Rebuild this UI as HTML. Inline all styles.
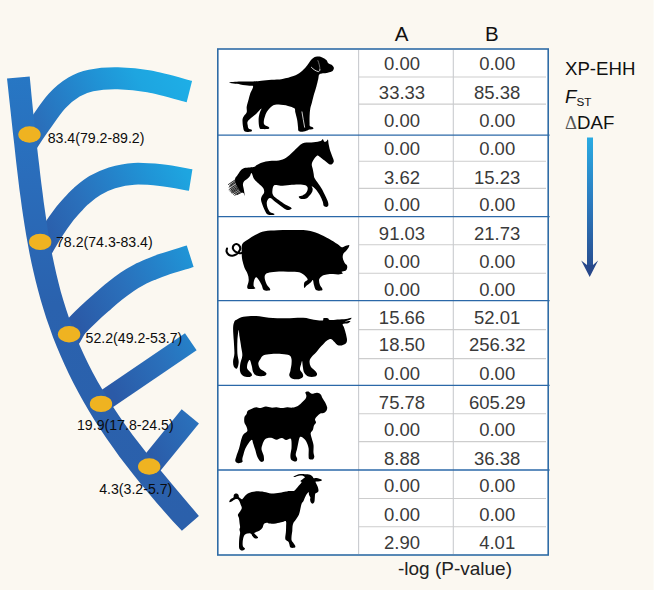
<!DOCTYPE html>
<html><head><meta charset="utf-8"><title>Figure</title>
<style>
html,body{margin:0;padding:0;background:#fbf8f1;}
svg{display:block}
text{font-family:"Liberation Sans",sans-serif;}
</style></head><body>
<svg width="655" height="590" viewBox="0 0 655 590">
<defs>
<linearGradient id="tg" gradientUnits="userSpaceOnUse" x1="-68.6" y1="34.9" x2="117.2" y2="-59.6">
<stop offset="0" stop-color="#2b5aa7"/>
<stop offset="0.279" stop-color="#2a70bb"/>
<stop offset="0.441" stop-color="#2580c8"/>
<stop offset="0.624" stop-color="#2094d6"/>
<stop offset="0.789" stop-color="#1ea5e0"/>
<stop offset="1" stop-color="#1eaee6"/>
</linearGradient>
<linearGradient id="trg" gradientUnits="userSpaceOnUse" x1="0" y1="77" x2="0" y2="523">
<stop offset="0" stop-color="#2777c4"/>
<stop offset="0.22" stop-color="#2a6dbb"/>
<stop offset="0.51" stop-color="#2a62ae"/>
<stop offset="1" stop-color="#2b60ab"/>
</linearGradient>
<linearGradient id="ag" gradientUnits="userSpaceOnUse" x1="0" y1="137" x2="0" y2="277">
<stop offset="0" stop-color="#29abe2"/>
<stop offset="0.45" stop-color="#2b7cc0"/>
<stop offset="1" stop-color="#27488a"/>
</linearGradient>
</defs>
<rect x="0" y="0" width="655" height="590" fill="#fbf8f1"/>

<g fill="none" stroke="url(#tg)" stroke-width="22" stroke-linecap="butt">
<path d="M25.5,146.0C25.8,145.4 25.1,146.2 27.5,142.5C29.9,138.8 35.1,130.9 40.0,124.0C44.9,117.1 51.3,107.2 57.0,101.0C62.7,94.8 68.3,90.4 74.0,87.0C79.7,83.6 83.7,82.0 91.0,80.5C98.3,79.0 108.1,78.1 117.8,78.3C127.5,78.5 137.2,79.2 149.1,81.4C161.0,83.6 182.7,89.8 189.4,91.5" stroke-width="22"/>
<path d="M41.5,249.5C41.8,249.0 41.5,249.7 43.4,246.5C45.3,243.3 49.5,235.7 52.9,230.5C56.2,225.3 59.9,220.0 63.5,215.3C67.2,210.6 71.9,205.6 74.8,202.4C77.7,199.2 77.8,198.8 81.1,196.0C84.4,193.2 89.8,188.5 94.9,185.5C100.1,182.5 105.5,179.8 112.0,177.8C118.5,175.9 125.8,174.2 134.0,173.8C142.2,173.4 151.5,174.2 160.9,175.2C170.3,176.2 185.7,179.2 190.7,180.0" stroke-width="21.8"/>
<path d="M66.5,341.0C67.1,340.3 68.5,339.1 70.2,336.6C71.9,334.1 73.8,329.6 76.7,326.0C79.7,322.4 83.8,318.6 87.9,314.7C92.0,310.8 96.7,306.6 101.1,302.8C105.5,299.0 109.9,295.1 114.2,291.6C118.5,288.1 122.9,284.8 127.1,281.9C131.3,279.0 135.3,276.7 139.5,274.5C143.7,272.3 148.2,270.5 152.2,268.8C156.2,267.1 157.2,266.6 163.5,264.5C169.8,262.4 185.8,257.6 190.2,256.2" stroke-width="22.6"/>
<path d="M100.0,403.6 L190.8,341.8" stroke-width="20.6"/>
<path d="M149.5,466.5 L190.3,416.4" stroke-width="22.3"/>
</g>
<path d="M29.7,76.4 L30.6,85.4 L31.4,94.3 L32.3,103.3 L33.2,112.3 L34.2,121.2 L35.2,130.2 L36.2,139.2 L37.2,148.2 L38.2,157.1 L39.3,166.1 L40.3,175.1 L41.4,184.0 L42.6,193.0 L43.7,202.0 L45.0,210.9 L46.3,219.9 L47.6,228.9 L49.1,237.8 L50.7,246.8 L52.4,255.8 L54.3,264.8 L56.3,273.7 L58.5,282.7 L60.8,291.7 L63.4,300.6 L66.2,309.6 L69.2,318.6 L72.4,327.5 L76.0,336.5 L79.7,345.5 L83.8,354.5 L88.1,363.4 L92.7,372.4 L97.6,381.4 L102.8,390.3 L108.2,399.3 L114.0,408.3 L120.0,417.2 L126.3,426.2 L132.8,435.2 L139.6,444.1 L146.6,453.1 L153.8,462.1 L161.1,471.1 L168.6,480.0 L176.1,489.0 L183.7,498.0 L191.3,506.9 L198.9,515.9 L181.9,530.7 L173.1,521.5 L164.9,512.2 L156.8,503.0 L149.0,493.8 L141.3,484.5 L133.9,475.3 L126.7,466.1 L119.7,456.9 L113.0,447.6 L106.6,438.4 L100.4,429.2 L94.4,419.9 L88.8,410.7 L83.4,401.5 L78.3,392.2 L73.4,383.0 L68.8,373.8 L64.5,364.5 L60.4,355.3 L56.5,346.1 L52.9,336.9 L49.6,327.6 L46.4,318.4 L43.5,309.2 L40.7,299.9 L38.2,290.7 L35.8,281.5 L33.6,272.2 L31.5,263.0 L29.6,253.8 L27.9,244.6 L26.2,235.3 L24.7,226.1 L23.3,216.9 L21.9,207.6 L20.7,198.4 L19.4,189.2 L18.3,179.9 L17.2,170.7 L16.1,161.5 L15.1,152.2 L14.1,143.0 L13.0,133.8 L12.0,124.6 L11.0,115.3 L10.0,106.1 L9.0,96.9 L8.0,87.6 L7.0,78.4Z" fill="url(#trg)"/>
<ellipse cx="29.5" cy="134.5" rx="11.2" ry="8.2" fill="#efb321"/>
<ellipse cx="40.2" cy="241.9" rx="11.2" ry="8.2" fill="#efb321"/>
<ellipse cx="69.1" cy="334.2" rx="11.2" ry="8.2" fill="#efb321"/>
<ellipse cx="101.0" cy="403.9" rx="11.2" ry="8.2" fill="#efb321"/>
<ellipse cx="149.2" cy="466.5" rx="11.2" ry="8.2" fill="#efb321"/>
<text x="47.7" y="143.0" font-size="14.15" fill="#0c0c0c">83.4(79.2-89.2)</text>
<text x="56.0" y="246.8" font-size="14.15" fill="#0c0c0c">78.2(74.3-83.4)</text>
<text x="85.6" y="343.4" font-size="14.15" fill="#0c0c0c">52.2(49.2-53.7)</text>
<text x="77.0" y="430.0" font-size="14.15" fill="#0c0c0c">19.9(17.8-24.5)</text>
<text x="99.2" y="493.8" font-size="14.15" fill="#0c0c0c">4.3(3.2-5.7)</text>
<rect x="218" y="49" width="330" height="506" fill="#ffffff"/>
<line x1="358.6" y1="77.0" x2="546" y2="77.0" stroke="#cdcdcd" stroke-width="1.1"/>
<line x1="358.6" y1="104.1" x2="546" y2="104.1" stroke="#cdcdcd" stroke-width="1.1"/>
<line x1="358.6" y1="161.2" x2="546" y2="161.2" stroke="#cdcdcd" stroke-width="1.1"/>
<line x1="358.6" y1="188.4" x2="546" y2="188.4" stroke="#cdcdcd" stroke-width="1.1"/>
<line x1="358.6" y1="244.7" x2="546" y2="244.7" stroke="#cdcdcd" stroke-width="1.1"/>
<line x1="358.6" y1="273.3" x2="546" y2="273.3" stroke="#cdcdcd" stroke-width="1.1"/>
<line x1="358.6" y1="329.6" x2="546" y2="329.6" stroke="#cdcdcd" stroke-width="1.1"/>
<line x1="358.6" y1="358.6" x2="546" y2="358.6" stroke="#cdcdcd" stroke-width="1.1"/>
<line x1="358.6" y1="413.7" x2="546" y2="413.7" stroke="#cdcdcd" stroke-width="1.1"/>
<line x1="358.6" y1="441.6" x2="546" y2="441.6" stroke="#cdcdcd" stroke-width="1.1"/>
<line x1="358.6" y1="498.5" x2="546" y2="498.5" stroke="#cdcdcd" stroke-width="1.1"/>
<line x1="358.6" y1="526.7" x2="546" y2="526.7" stroke="#cdcdcd" stroke-width="1.1"/>
<line x1="358.6" y1="50" x2="358.6" y2="554" stroke="#c9cbcf" stroke-width="1.1"/>
<line x1="453.3" y1="50" x2="453.3" y2="554" stroke="#c9cbcf" stroke-width="1.1"/>
<line x1="218" y1="135.1" x2="549.6" y2="135.1" stroke="#2b68a8" stroke-width="1.4"/>
<line x1="218" y1="216.6" x2="549.6" y2="216.6" stroke="#2b68a8" stroke-width="1.4"/>
<line x1="218" y1="300.6" x2="549.6" y2="300.6" stroke="#2b68a8" stroke-width="1.4"/>
<line x1="218" y1="385.4" x2="549.6" y2="385.4" stroke="#2b68a8" stroke-width="1.4"/>
<line x1="218" y1="470.0" x2="549.6" y2="470.0" stroke="#2b68a8" stroke-width="1.4"/>
<rect x="217.8" y="49" width="330.4" height="506" fill="none" stroke="#2f6ca6" stroke-width="1.6"/>
<path d="M229.0,82.6C229.0,82.1 236.3,81.7 240.3,81.5C244.4,81.3 249.6,81.6 253.1,81.5C256.7,81.4 258.3,81.1 261.4,80.8C264.4,80.5 268.0,80.0 271.5,79.7C275.0,79.4 278.8,79.6 282.5,78.9C286.1,78.3 290.4,77.2 293.5,76.0C296.5,74.9 298.6,73.6 300.8,72.0C302.9,70.4 304.8,68.3 306.3,66.5C307.8,64.7 308.7,62.8 309.9,61.4C311.2,59.9 312.2,58.5 313.6,57.7C315.0,56.9 316.7,56.6 318.2,56.6C319.7,56.6 321.4,57.1 322.8,57.7C324.1,58.3 325.5,59.2 326.4,60.1C327.3,61.0 327.3,62.4 328.3,63.2C329.2,64.0 331.0,64.3 331.9,65.0C332.8,65.7 333.5,66.6 333.8,67.4C334.0,68.2 333.8,69.1 333.4,69.8C333.0,70.5 332.7,71.1 331.6,71.6C330.4,72.2 328.1,72.8 326.4,73.1C324.8,73.4 323.1,73.2 321.9,73.5C320.6,73.7 319.7,73.8 319.1,74.7C318.5,75.7 318.6,77.3 318.2,79.3C317.7,81.3 317.1,83.9 316.4,86.6C315.6,89.4 314.4,93.1 313.6,95.8C312.8,98.6 312.3,101.0 311.8,103.1C311.2,105.3 310.7,106.5 310.3,108.6C309.9,110.8 309.7,113.5 309.6,116.0C309.5,118.4 309.5,121.6 309.6,123.3C309.6,125.0 309.4,125.4 309.9,126.0C310.5,126.7 312.2,126.8 312.7,127.3C313.2,127.8 313.8,128.7 313.1,129.1C312.3,129.6 309.1,129.6 308.1,129.9C307.1,130.1 308.1,130.3 307.2,130.6C306.3,130.9 304.1,131.7 302.6,131.7C301.2,131.8 299.3,131.8 298.6,131.0C297.8,130.2 298.3,128.8 298.0,127.0C297.8,125.1 297.6,122.1 297.1,119.6C296.7,117.2 295.7,114.2 295.3,112.3C294.8,110.4 295.6,109.3 294.4,108.3C293.1,107.2 290.6,106.5 288.0,105.9C285.4,105.3 281.2,104.7 278.8,104.6C276.4,104.5 275.1,104.4 273.3,105.3C271.5,106.3 269.2,108.7 267.8,110.5C266.4,112.2 265.7,114.1 265.1,116.0C264.4,117.8 263.9,120.0 263.8,121.5C263.7,122.9 263.7,123.8 264.5,124.8C265.3,125.7 268.0,126.3 268.7,127.0C269.4,127.6 269.6,128.4 268.7,128.8C267.8,129.1 264.8,129.3 263.2,129.1C261.7,129.0 260.3,129.5 259.6,127.9C258.8,126.3 258.6,122.1 258.6,119.6C258.6,117.2 259.1,115.0 259.6,113.2C260.0,111.4 261.8,108.6 261.4,108.6C260.9,108.6 258.5,111.7 256.8,113.2C255.1,114.7 252.8,116.4 251.3,117.8C249.8,119.2 248.3,120.2 247.7,121.5C247.0,122.7 247.5,124.0 247.7,125.1C247.8,126.3 247.9,127.7 248.6,128.4C249.2,129.2 251.3,129.2 251.7,129.7C252.1,130.2 252.1,131.2 250.9,131.5C249.8,131.8 246.2,132.3 244.9,131.5C243.6,130.8 243.5,128.9 243.1,127.0C242.7,125.0 242.4,121.5 242.5,119.6C242.7,117.8 243.3,117.2 244.0,116.0C244.7,114.7 246.3,113.8 246.7,112.3C247.2,110.8 246.4,108.9 246.7,106.8C247.0,104.7 248.0,101.8 248.6,99.5C249.2,97.2 249.6,95.2 250.4,93.1C251.2,90.9 253.3,87.9 253.1,86.6C253.0,85.4 251.6,86.1 249.5,85.7C247.3,85.4 243.7,85.0 240.3,84.4C236.9,83.9 229.0,83.1 229.0,82.6Z" fill="#000"/>
<path d="M327.9,139.5C328.3,140.0 328.3,142.2 328.6,144.1C329.0,145.9 329.4,148.2 330.1,150.5C330.8,152.8 332.2,156.0 332.8,157.8C333.5,159.7 333.9,160.4 333.8,161.5C333.6,162.6 332.7,163.8 331.9,164.2C331.2,164.7 330.4,164.8 329.2,164.2C328.0,163.6 326.1,161.8 324.6,160.6C323.1,159.3 321.2,157.7 320.0,156.9C318.8,156.1 318.3,155.2 317.3,155.6C316.2,156.1 314.5,158.2 313.6,159.7C312.7,161.1 311.9,162.7 311.8,164.2C311.6,165.8 312.4,167.3 312.7,168.8C313.0,170.3 313.3,171.9 313.6,173.4C313.9,174.9 313.8,176.3 314.5,178.0C315.3,179.7 317.0,181.6 318.2,183.5C319.4,185.3 320.6,186.8 321.9,189.0C323.1,191.1 324.5,194.2 325.5,196.3C326.5,198.4 327.4,200.3 327.9,201.8C328.4,203.3 328.5,204.6 328.3,205.5C328.0,206.3 327.2,206.9 326.4,206.9C325.7,207.0 324.3,206.7 323.7,205.8C323.1,205.0 323.4,203.5 322.8,201.8C322.2,200.0 321.2,197.5 320.0,195.4C318.8,193.2 316.8,190.5 315.4,189.0C314.1,187.4 312.2,186.2 311.8,186.2C311.3,186.2 312.7,187.9 312.7,189.0C312.7,190.0 312.5,191.3 311.8,192.6C311.0,194.0 309.3,196.1 308.1,197.2C306.9,198.3 305.8,198.8 304.4,199.0C303.1,199.3 300.8,199.0 299.9,198.5C299.0,198.0 298.5,196.8 299.0,196.3C299.4,195.8 301.4,196.0 302.6,195.4C303.8,194.8 305.4,193.9 306.3,192.6C307.1,191.4 307.9,189.3 307.7,188.0C307.6,186.8 306.8,185.9 305.4,185.3C303.9,184.7 301.5,184.4 299.0,184.4C296.4,184.3 292.8,184.7 289.8,184.9C286.7,185.1 283.2,185.6 280.6,185.7C278.0,185.7 275.6,184.4 274.2,185.3C272.8,186.2 272.5,189.1 272.4,190.8C272.2,192.5 272.2,193.9 273.3,195.4C274.4,196.9 276.8,198.4 278.8,200.0C280.8,201.5 283.2,203.3 285.2,204.5C287.2,205.8 289.7,206.5 290.7,207.3C291.7,208.1 291.9,208.7 291.3,209.1C290.6,209.6 288.5,210.3 287.0,210.0C285.6,209.7 284.4,208.7 282.5,207.3C280.5,205.9 277.2,203.3 275.1,201.8C273.1,200.3 271.4,198.1 270.0,198.1C268.6,198.1 267.3,200.3 266.9,201.8C266.5,203.3 266.9,205.6 267.4,207.3C268.0,209.0 268.9,210.8 270.0,211.9C271.1,212.9 273.7,213.2 274.2,213.7C274.8,214.2 274.4,214.8 273.3,215.0C272.2,215.1 269.2,215.3 267.8,214.6C266.4,213.9 266.1,213.1 265.1,211.0C264.0,208.8 262.0,204.1 261.4,201.8C260.8,199.5 260.9,198.7 261.4,197.2C261.8,195.7 263.8,194.2 264.1,192.6C264.4,191.1 264.1,189.6 263.2,188.0C262.3,186.5 260.2,185.0 258.6,183.5C257.1,181.9 255.1,180.4 254.1,178.9C253.0,177.4 252.7,175.3 252.2,174.3C251.7,173.4 251.5,172.9 251.1,173.2C250.7,173.5 250.5,175.3 249.8,176.3C249.1,177.3 248.0,178.2 247.1,179.0C246.2,179.8 245.0,180.2 244.3,181.0C243.6,181.8 243.2,182.7 243.0,183.7C242.8,184.7 243.1,186.0 243.3,187.1C243.5,188.2 243.8,189.1 244.0,190.5C244.2,191.9 244.8,195.2 244.7,195.6C244.6,196.0 244.1,193.7 243.7,193.2C243.2,192.7 242.7,192.9 242.0,192.5C241.3,192.1 240.3,191.4 239.6,190.5C238.9,189.6 238.3,188.4 237.6,187.1C236.9,185.8 235.9,183.9 235.5,182.4C235.1,180.9 235.0,179.4 235.2,178.3C235.4,177.2 236.3,176.8 236.9,175.9C237.5,175.0 238.2,173.9 238.9,172.9C239.6,171.9 240.0,171.0 240.9,170.2C241.8,169.4 242.8,168.5 244.3,168.1C245.8,167.7 248.1,167.7 249.8,167.5C251.5,167.3 253.3,167.2 254.5,166.8C255.7,166.4 255.5,165.9 256.8,165.1C258.1,164.4 260.2,163.1 262.3,162.4C264.4,161.7 266.9,161.4 269.6,161.1C272.4,160.8 276.0,161.1 278.8,160.6C281.5,160.0 283.8,159.2 286.1,157.8C288.4,156.4 290.4,154.3 292.5,152.3C294.7,150.3 297.0,147.5 299.0,145.9C300.9,144.3 302.0,143.4 304.4,142.8C306.9,142.2 310.9,142.6 313.6,142.2C316.4,141.9 319.4,141.5 320.9,141.0C322.5,140.4 322.2,139.0 322.8,139.1C323.3,139.3 323.6,141.3 324.2,141.7C324.8,142.1 325.8,141.7 326.4,141.3C327.0,141.0 327.5,139.0 327.9,139.5Z" fill="#000"/>
<path d="M242.3,244.1C243.3,241.9 245.3,241.4 247.6,239.8C250.0,238.2 253.3,235.9 256.2,234.4C259.0,233.0 261.2,231.9 264.7,231.2C268.3,230.5 272.9,230.4 277.6,230.2C282.2,230.0 287.5,229.9 292.5,230.0C297.5,230.0 303.2,229.8 307.5,230.4C311.8,230.9 314.6,232.0 318.2,233.4C321.7,234.8 325.7,236.9 328.9,238.7C332.1,240.5 335.3,242.6 337.4,244.1C339.5,245.5 340.4,246.9 341.7,247.3C342.9,247.6 343.6,246.6 344.9,246.2C346.1,245.8 348.6,244.8 349.2,245.1C349.7,245.5 348.7,247.3 348.1,248.3C347.5,249.4 346.3,250.6 345.5,251.5C344.7,252.4 343.9,252.6 343.4,253.7C342.9,254.7 342.5,256.3 342.8,257.9C343.0,259.6 344.2,262.0 344.9,263.3C345.6,264.5 346.7,264.5 347.0,265.4C347.4,266.3 347.3,267.7 347.0,268.6C346.8,269.5 346.4,270.2 345.5,270.8C344.6,271.3 342.1,271.4 341.7,271.8C341.2,272.3 343.3,273.1 342.8,273.6C342.2,274.0 340.1,274.3 338.5,274.4C336.9,274.5 335.1,274.0 333.1,274.0C331.2,274.0 328.5,274.1 326.7,274.4C324.9,274.7 323.7,274.9 322.4,275.7C321.2,276.5 319.7,277.8 319.2,279.3C318.8,280.8 319.3,283.1 319.9,284.7C320.4,286.3 322.2,287.9 322.4,288.9C322.7,289.9 322.4,290.5 321.4,290.6C320.3,290.8 317.3,291.0 316.0,290.0C314.8,289.0 314.4,286.3 313.9,284.7C313.4,283.0 313.4,280.3 312.8,280.0C312.3,279.6 311.8,281.6 310.7,282.5C309.6,283.5 307.5,284.8 306.4,285.7C305.4,286.6 304.6,288.4 304.3,287.9C303.9,287.3 303.7,283.8 304.3,282.5C304.8,281.2 307.1,280.9 307.5,280.0C307.8,279.1 307.5,278.4 306.4,277.2C305.4,276.0 303.4,273.8 301.1,272.9C298.8,272.0 295.7,272.1 292.5,271.8C289.3,271.6 285.4,271.3 281.8,271.4C278.3,271.5 273.8,271.8 271.2,272.3C268.5,272.7 266.9,273.0 265.8,274.0C264.7,275.0 264.6,276.5 264.7,278.3C264.9,280.0 266.0,282.9 266.9,284.7C267.8,286.4 269.7,287.9 270.1,288.9C270.4,289.9 270.1,290.5 269.0,290.6C267.9,290.8 264.9,291.0 263.7,290.0C262.4,289.0 262.4,286.3 261.5,284.7C260.7,283.0 259.7,281.2 258.8,280.0C257.9,278.7 257.0,277.1 256.2,277.2C255.4,277.3 254.5,279.0 254.1,280.4C253.6,281.8 253.5,284.4 253.6,285.7C253.8,287.1 255.9,288.0 255.1,288.5C254.3,289.0 250.0,289.2 248.7,288.9C247.4,288.7 247.2,288.2 247.2,286.8C247.2,285.4 248.6,282.5 248.7,280.4C248.8,278.3 248.4,276.1 247.6,274.0C246.9,271.8 245.3,269.9 244.4,267.6C243.6,265.3 242.8,262.6 242.3,260.1C241.8,257.6 241.7,255.3 241.7,252.6C241.7,249.9 241.3,246.2 242.3,244.1Z" fill="#000"/>
<path d="M237.0,319.4C238.5,318.6 240.2,317.4 243.4,316.8C246.6,316.2 251.9,315.8 256.2,316.0C260.5,316.1 264.0,317.3 269.0,317.7C274.0,318.1 280.4,318.3 286.1,318.3C291.8,318.3 298.6,317.4 303.2,317.7C307.8,317.9 310.7,319.3 313.9,319.8C317.1,320.3 320.8,320.7 322.4,320.4C324.1,320.2 322.6,318.7 323.5,318.3C324.4,317.9 326.7,318.0 327.8,318.3C328.9,318.6 328.3,319.8 329.9,320.0C331.5,320.2 334.7,319.6 337.4,319.4C340.1,319.2 343.6,319.2 346.0,318.9C348.3,318.7 350.7,317.5 351.3,317.7C351.9,317.8 350.9,319.2 349.8,319.8C348.7,320.4 344.8,321.3 344.9,321.5C345.0,321.7 349.7,320.8 350.2,321.1C350.8,321.4 349.3,322.7 348.1,323.2C346.8,323.7 343.4,323.3 342.8,324.1C342.1,324.9 343.7,326.2 344.2,327.9C344.8,329.6 345.5,332.4 346.0,334.3C346.4,336.3 347.0,338.2 347.0,339.7C347.0,341.2 346.8,342.3 346.0,343.3C345.1,344.3 343.1,345.2 341.7,345.4C340.3,345.7 338.7,345.6 337.4,345.0C336.2,344.4 335.3,342.8 334.2,341.8C333.1,340.8 332.2,339.2 331.0,339.0C329.8,338.9 328.3,339.6 326.7,340.7C325.1,341.9 323.2,344.1 321.4,346.1C319.6,348.0 317.6,350.7 316.0,352.5C314.4,354.3 312.8,355.3 311.8,356.8C310.7,358.2 309.8,359.4 309.6,361.0C309.4,362.7 309.8,364.8 310.7,366.4C311.6,368.0 313.9,369.4 315.0,370.7C316.0,371.9 317.1,372.9 317.1,373.9C317.1,374.9 316.4,376.2 315.0,376.6C313.5,377.1 310.3,377.3 308.6,376.6C306.8,376.0 305.2,374.5 304.3,372.8C303.3,371.1 303.1,368.3 302.8,366.4C302.4,364.4 302.4,361.4 302.1,361.0C301.9,360.7 301.4,362.8 301.1,364.3C300.7,365.7 299.7,368.0 300.0,369.6C300.3,371.2 302.3,372.6 302.8,373.9C303.2,375.1 303.4,376.2 302.8,377.1C302.1,378.0 300.6,378.9 298.9,379.2C297.2,379.5 294.1,379.4 292.5,378.8C290.9,378.1 289.7,376.7 289.3,375.4C289.0,374.0 290.0,372.5 290.4,370.7C290.7,368.8 291.3,366.2 291.5,364.3C291.6,362.3 291.8,360.4 291.5,358.9C291.1,357.4 290.9,356.1 289.3,355.3C287.7,354.5 284.9,354.2 281.8,354.0C278.8,353.8 274.2,353.8 271.2,354.0C268.1,354.2 265.5,354.5 263.7,355.3C261.9,356.1 261.4,357.6 260.5,358.9C259.6,360.2 258.4,361.6 258.3,363.2C258.3,364.8 259.0,367.1 260.0,368.5C261.1,370.0 263.7,370.8 264.7,371.7C265.8,372.6 266.6,373.2 266.5,373.9C266.3,374.6 265.4,375.8 263.7,376.0C262.0,376.3 258.0,376.1 256.2,375.4C254.4,374.7 253.7,373.2 253.0,371.7C252.3,370.2 252.5,368.3 251.9,366.4C251.4,364.4 250.5,360.5 249.8,360.0C249.1,359.4 248.1,361.8 247.6,363.2C247.2,364.6 246.7,366.9 247.2,368.5C247.8,370.1 250.1,371.7 250.9,372.8C251.6,373.9 252.3,374.7 251.9,375.4C251.6,376.1 250.1,377.0 248.7,377.1C247.3,377.2 244.8,376.9 243.4,376.0C241.9,375.1 240.7,373.7 240.2,371.7C239.6,369.8 239.8,366.9 240.2,364.3C240.5,361.6 242.1,358.6 242.3,355.7C242.5,352.9 241.7,350.4 241.2,347.2C240.8,343.9 240.0,339.3 239.5,336.5C239.1,333.6 239.0,329.3 238.7,330.1C238.3,330.8 237.6,336.8 237.4,340.7C237.2,344.7 237.2,350.0 237.4,353.6C237.6,357.1 238.7,359.6 238.7,362.1C238.6,364.6 237.8,367.8 237.0,368.5C236.1,369.2 234.4,367.6 233.8,366.4C233.1,365.1 233.0,363.2 233.1,361.0C233.2,358.9 234.3,357.0 234.4,353.6C234.5,350.2 234.0,345.0 233.8,340.7C233.5,336.5 233.0,331.1 233.1,327.9C233.2,324.7 233.8,322.9 234.4,321.5C235.0,320.1 235.5,320.2 237.0,319.4Z" fill="#000"/>
<path d="M305.4,392.3C305.7,391.5 307.5,391.4 308.6,391.6C309.6,391.9 310.3,393.6 311.8,393.8C313.2,393.9 315.6,392.6 317.1,392.7C318.6,392.8 319.8,393.5 320.7,394.4C321.6,395.3 321.6,396.5 322.4,398.0C323.3,399.5 324.9,401.8 325.7,403.4C326.4,405.0 327.0,406.4 327.2,407.6C327.3,408.9 326.9,410.0 326.3,410.9C325.7,411.7 324.5,412.5 323.5,413.0C322.5,413.5 321.4,413.1 320.3,413.6C319.2,414.2 318.0,415.2 317.1,416.2C316.2,417.2 315.1,418.3 315.0,419.4C314.8,420.5 316.2,421.5 316.0,422.6C315.9,423.7 314.4,424.6 313.9,425.8C313.4,427.1 313.4,428.8 312.8,430.1C312.3,431.3 310.9,431.9 310.7,433.3C310.5,434.7 311.3,436.7 311.8,438.6C312.2,440.6 313.2,442.7 313.5,445.0C313.8,447.4 313.3,450.6 313.5,452.5C313.6,454.5 314.4,455.7 314.3,456.8C314.2,457.9 313.7,459.0 312.8,459.4C312.0,459.7 309.9,459.5 309.2,458.9C308.5,458.3 308.7,457.5 308.6,455.7C308.5,454.0 308.9,450.6 308.6,448.3C308.2,445.9 307.3,443.6 306.4,441.8C305.5,440.1 304.3,438.8 303.2,438.0C302.1,437.2 300.8,436.5 300.0,437.1C299.2,437.8 299.0,440.0 298.5,441.8C298.0,443.7 297.7,446.1 297.2,448.3C296.8,450.4 295.7,452.9 295.7,454.7C295.7,456.4 297.2,457.8 297.2,458.9C297.2,460.1 296.7,461.3 295.7,461.5C294.8,461.7 292.3,461.0 291.5,460.0C290.6,459.0 290.4,457.7 290.4,455.7C290.4,453.8 291.3,450.6 291.5,448.3C291.6,445.9 291.6,443.4 291.5,441.8C291.3,440.2 291.3,438.9 290.4,438.6C289.5,438.4 287.5,440.2 286.1,440.1C284.7,440.0 283.4,438.1 281.8,438.0C280.2,437.9 278.1,439.7 276.5,439.7C274.9,439.7 273.6,438.3 272.2,438.0C270.8,437.7 269.2,437.7 267.9,438.0C266.7,438.3 265.6,438.7 264.7,439.7C263.9,440.7 263.1,442.4 262.6,444.0C262.1,445.6 261.4,447.4 261.5,449.3C261.7,451.3 263.3,453.8 263.7,455.7C264.0,457.7 264.2,460.1 263.7,461.1C263.1,462.0 261.5,462.2 260.5,461.5C259.4,460.8 258.2,458.8 257.3,456.8C256.4,454.8 255.8,451.6 255.1,449.3C254.4,447.0 253.5,444.5 253.0,442.9C252.5,441.3 252.6,439.7 251.9,439.7C251.2,439.7 249.8,441.5 248.7,442.9C247.6,444.3 246.4,446.3 245.5,448.3C244.6,450.2 243.9,452.9 243.4,454.7C242.8,456.4 242.5,457.7 242.3,458.9C242.1,460.2 243.0,461.4 242.3,462.1C241.6,462.9 239.2,463.4 238.0,463.2C236.9,463.0 235.5,462.3 235.3,461.1C235.0,459.8 235.9,457.9 236.5,455.7C237.2,453.6 238.3,450.9 239.1,448.3C239.9,445.6 240.5,442.0 241.2,439.7C241.9,437.4 242.4,435.8 243.4,434.4C244.4,432.9 246.7,432.4 247.2,431.2C247.8,429.9 247.0,428.3 246.6,426.9C246.1,425.5 244.8,424.2 244.4,422.6C244.1,421.0 244.1,418.7 244.4,417.3C244.8,415.8 246.0,415.1 246.6,414.1C247.1,413.0 246.8,411.7 247.6,410.9C248.5,410.0 250.5,409.3 251.9,408.7C253.3,408.1 254.8,407.3 256.2,407.2C257.6,407.1 258.9,408.2 260.5,408.1C262.1,408.0 264.0,406.6 265.8,406.6C267.6,406.5 269.4,407.5 271.2,407.6C272.9,407.8 274.7,407.1 276.5,407.2C278.3,407.3 280.1,408.1 281.8,408.1C283.6,408.1 285.4,407.3 287.2,407.2C289.0,407.1 290.7,407.9 292.5,407.6C294.3,407.4 296.3,406.8 297.9,405.9C299.5,405.0 300.9,403.4 302.1,402.3C303.4,401.2 304.6,400.2 305.4,399.1C306.1,398.0 306.4,397.0 306.4,395.9C306.4,394.8 305.0,393.0 305.4,392.3Z" fill="#000"/>
<path d="M293.1,476.9C293.3,476.6 295.4,475.4 296.7,474.9C298.0,474.4 299.4,474.2 300.8,474.1C302.2,474.0 303.8,474.3 304.9,474.3C306.0,474.3 306.8,474.2 307.7,474.3C308.6,474.4 309.3,474.4 310.1,474.8C310.9,475.2 311.9,475.9 312.5,476.5C313.1,477.1 313.1,477.9 313.8,478.2C314.5,478.5 315.7,478.0 316.6,478.1C317.5,478.2 318.4,478.5 319.3,478.8C320.2,479.1 321.9,479.6 322.1,480.0C322.3,480.4 321.4,480.8 320.7,481.0C320.0,481.2 318.9,481.4 318.0,481.5C317.1,481.6 315.9,481.3 315.6,481.7C315.3,482.1 316.0,482.9 316.3,483.7C316.6,484.5 317.2,485.5 317.6,486.5C318.0,487.5 318.4,489.0 318.5,489.9C318.6,490.8 318.4,491.5 318.0,492.0C317.6,492.5 316.8,492.7 316.3,493.0C315.8,493.3 315.4,493.2 315.2,493.7C315.0,494.2 315.0,495.1 314.9,496.1C314.8,497.1 314.8,498.5 314.7,499.5C314.6,500.5 314.6,501.6 314.2,502.3C313.8,503.0 313.1,503.7 312.5,503.7C311.9,503.7 311.2,503.0 310.8,502.3C310.4,501.6 310.2,500.3 310.1,499.5C310.0,498.7 310.6,498.3 310.4,497.5C310.2,496.7 309.3,495.6 309.0,494.7C308.7,493.8 309.0,492.5 308.7,492.3C308.4,492.1 307.6,492.9 307.0,493.7C306.4,494.4 305.9,495.6 305.3,496.8C304.7,498.0 304.1,499.8 303.5,500.9C302.9,502.0 302.1,502.3 301.6,503.7C301.1,505.1 300.8,507.4 300.3,509.2C299.9,511.0 299.6,513.0 298.9,514.7C298.2,516.4 297.0,517.8 296.1,519.2C295.2,520.6 294.0,521.7 293.4,522.9C292.8,524.1 292.7,525.2 292.5,526.6C292.3,528.0 292.4,529.6 292.3,531.1C292.2,532.6 291.7,534.2 291.6,535.7C291.5,537.2 291.3,539.1 291.6,540.3C291.9,541.5 292.8,542.1 293.4,543.0C294.0,543.9 295.0,545.0 295.2,545.8C295.4,546.6 295.6,547.3 294.8,547.6C294.0,547.9 291.5,548.2 290.6,547.6C289.7,547.0 289.7,545.0 289.3,544.0C288.9,543.0 289.0,542.4 288.4,541.7C287.8,541.0 286.1,540.6 285.6,539.8C285.1,538.9 285.2,537.9 285.3,536.6C285.4,535.3 285.8,533.8 285.9,532.1C286.0,530.4 286.1,528.4 286.1,526.6C286.1,524.8 286.5,522.0 285.9,521.2C285.3,520.4 284.0,521.6 282.4,522.0C280.8,522.4 278.1,523.1 276.0,523.4C273.9,523.7 271.0,523.7 269.6,523.6C268.2,523.5 268.4,522.7 267.5,522.7C266.6,522.7 264.9,523.0 264.1,523.8C263.3,524.6 263.2,526.6 262.5,527.7C261.8,528.8 260.8,529.8 259.7,530.5C258.6,531.2 256.7,531.7 255.8,532.2C254.9,532.7 254.3,532.8 254.3,533.3C254.3,533.8 255.2,534.4 255.8,535.0C256.4,535.6 257.7,536.7 258.0,537.2C258.3,537.8 258.0,538.1 257.4,538.3C256.8,538.5 255.4,538.7 254.6,538.3C253.8,537.9 252.9,536.8 252.4,536.1C251.9,535.4 251.9,534.4 251.3,533.9C250.7,533.4 250.0,533.2 249.0,533.3C248.0,533.4 246.0,533.8 245.1,534.4C244.2,535.0 243.9,536.0 243.5,537.2C243.1,538.4 242.8,540.2 242.7,541.7C242.6,543.2 242.5,545.1 242.9,546.2C243.3,547.3 244.6,547.9 244.9,548.4C245.2,548.9 245.1,549.1 244.6,549.5C244.1,549.9 242.7,550.7 241.8,550.6C241.0,550.5 240.0,549.9 239.5,549.0C239.0,548.1 239.0,546.8 239.0,545.0C239.0,543.2 239.1,540.3 239.3,538.3C239.5,536.2 240.1,534.2 240.1,532.7C240.1,531.2 239.5,530.3 239.5,529.4C239.5,528.5 240.1,528.2 240.1,527.1C240.1,526.0 239.7,524.2 239.5,522.7C239.3,521.2 239.3,519.5 239.0,518.2C238.7,516.9 237.7,515.9 237.9,514.8C238.1,513.7 239.4,512.6 240.1,511.5C240.8,510.4 241.7,509.2 241.8,508.1C241.9,507.0 241.1,505.9 240.7,504.8C240.3,503.7 240.0,502.3 239.5,501.4C239.0,500.5 238.6,499.6 237.9,499.2C237.2,498.8 236.1,498.8 235.1,499.2C234.1,499.6 232.7,500.9 231.7,501.4C230.7,501.9 229.5,502.4 229.3,502.0C229.1,501.6 229.9,499.9 230.6,499.2C231.3,498.4 232.8,498.2 233.4,497.5C234.0,496.8 233.4,495.3 233.9,494.7C234.4,494.1 235.4,493.6 236.2,493.6C236.9,493.6 237.9,494.1 238.4,494.7C238.9,495.2 238.6,496.2 239.0,496.9C239.4,497.5 240.1,498.2 240.7,498.6C241.2,499.0 241.6,499.7 242.3,499.2C243.0,498.7 244.0,496.8 245.1,495.8C246.2,494.8 247.3,493.7 249.0,493.0C250.7,492.3 252.7,491.6 255.2,491.4C257.7,491.2 261.4,491.6 264.1,491.9C266.8,492.2 268.6,493.3 271.2,493.4C273.8,493.5 277.2,493.0 279.7,492.7C282.2,492.4 284.4,491.8 286.0,491.5C287.6,491.2 287.8,491.0 289.1,490.9C290.4,490.8 292.5,491.2 293.6,490.9C294.8,490.6 295.1,489.8 296.0,488.9C296.9,488.0 297.8,486.9 298.7,485.8C299.6,484.7 301.2,483.1 301.5,482.4C301.8,481.6 300.6,481.6 300.5,481.3C300.4,481.0 300.7,480.7 301.1,480.3C301.5,479.9 302.3,479.3 302.9,478.9C303.5,478.4 304.7,478.0 304.9,477.6C305.1,477.2 304.6,476.8 304.2,476.5C303.8,476.2 303.1,475.7 302.2,475.6C301.3,475.5 299.8,475.6 298.7,475.8C297.6,476.0 296.2,476.7 295.3,476.9C294.4,477.1 292.9,477.2 293.1,476.9Z" fill="#000"/>
<path d="M230,184 L236,179 L236.5,183 L240,190.5 L242.5,192.5 L236,195 L231,191.5 Z" fill="#000" fill-opacity="0.35"/>
<g stroke="#000" stroke-width="0.8" stroke-linecap="round">
<line x1="228.4" y1="184.5" x2="235.9" y2="179.3"/>
<line x1="229.1" y1="187.1" x2="236.9" y2="181.7"/>
<line x1="229.1" y1="189.5" x2="238.2" y2="183.4"/>
<line x1="230.8" y1="191.5" x2="239.3" y2="186.1"/>
<line x1="232.1" y1="193.2" x2="240.3" y2="188.1"/>
<line x1="234.8" y1="195.3" x2="241.6" y2="190.8"/>
<line x1="237.2" y1="194.6" x2="242.3" y2="191.9"/>
<line x1="229.6" y1="185.8" x2="236.4" y2="180.6"/>
<line x1="229.9" y1="190.6" x2="238.8" y2="184.8"/>
<line x1="231.5" y1="192.4" x2="239.8" y2="187.1"/>
<line x1="233.4" y1="194.3" x2="241.0" y2="189.5"/>
</g>
<path d="M301.9,111.5 L303.3,119.7 L304.7,127.6" fill="none" stroke="#fff" stroke-width="0.8"/>
<path d="M227.0,248.6C226.9,249.1 226.3,250.6 226.6,251.6C226.9,252.6 227.9,254.1 228.9,254.8C229.9,255.5 231.3,255.8 232.5,255.7C233.7,255.6 235.1,255.0 236.2,254.3C237.3,253.6 238.2,252.6 238.9,251.6C239.6,250.6 240.3,249.5 240.3,248.4C240.3,247.3 239.6,245.9 238.9,245.2C238.2,244.5 237.1,243.9 236.2,244.0C235.3,244.1 234.0,244.8 233.5,245.6C233.0,246.4 232.7,247.8 233.0,248.8C233.3,249.8 234.2,250.9 235.3,251.6C236.4,252.3 238.2,253.0 239.4,253.2C240.6,253.4 241.7,252.9 242.2,252.9" fill="none" stroke="#000" stroke-width="2.1" stroke-linecap="round"/>
<path d="M311.4,67.3 C313.5,69.5 316,71.2 318.6,71.6 C319.6,71 320,70.4 319.9,69.6" fill="none" stroke="#f2f2f2" stroke-width="0.9" stroke-linecap="round"/>
<path d="M319.9,69.6 C319.9,66.5 319,63 317.9,60.6" fill="none" stroke="#9a9a9a" stroke-width="0.7" stroke-linecap="round"/>
<g font-size="18.5" fill="#3a3a3a" text-anchor="middle">
<text x="402" y="70.3">0.00</text>
<text x="497.2" y="70.3">0.00</text>
<text x="402" y="99.3">33.33</text>
<text x="497.2" y="99.3">85.38</text>
<text x="402" y="127.4">0.00</text>
<text x="497.2" y="127.4">0.00</text>
<text x="402" y="154.8">0.00</text>
<text x="497.2" y="154.8">0.00</text>
<text x="402" y="184.1">3.62</text>
<text x="497.2" y="184.1">15.23</text>
<text x="402" y="210.7">0.00</text>
<text x="497.2" y="210.7">0.00</text>
<text x="402" y="239.9">91.03</text>
<text x="497.2" y="239.9">21.73</text>
<text x="402" y="268.2">0.00</text>
<text x="497.2" y="268.2">0.00</text>
<text x="402" y="295.8">0.00</text>
<text x="497.2" y="295.8">0.00</text>
<text x="402" y="324.0">15.66</text>
<text x="497.2" y="324.0">52.01</text>
<text x="402" y="351.1">18.50</text>
<text x="497.2" y="351.1">256.32</text>
<text x="402" y="380.1">0.00</text>
<text x="497.2" y="380.1">0.00</text>
<text x="402" y="408.8">75.78</text>
<text x="497.2" y="408.8">605.29</text>
<text x="402" y="436.1">0.00</text>
<text x="497.2" y="436.1">0.00</text>
<text x="402" y="464.9">8.88</text>
<text x="497.2" y="464.9">36.38</text>
<text x="402" y="491.6">0.00</text>
<text x="497.2" y="491.6">0.00</text>
<text x="402" y="520.6">0.00</text>
<text x="497.2" y="520.6">0.00</text>
<text x="402" y="548.6">2.90</text>
<text x="497.2" y="548.6">4.01</text>
</g>
<text x="401.5" y="40.5" font-size="20.5" fill="#111" text-anchor="middle">A</text>
<text x="491.8" y="40.5" font-size="20.5" fill="#111" text-anchor="middle">B</text>
<text x="565" y="74.7" font-size="18.65" fill="#111">XP-EHH</text>
<text x="565" y="102.6" font-size="18.65" fill="#111"><tspan font-style="italic">F</tspan><tspan font-size="11.7" dy="3.6">ST</tspan></text>
<text x="565" y="129" font-size="18.65" fill="#111"><tspan font-family="'Liberation Serif',serif" fill="#555">Δ</tspan>DAF</text>
<text x="455" y="575.3" font-size="19" fill="#222" text-anchor="middle">-log (P-value)</text>
<rect x="587" y="137.5" width="6" height="130" fill="url(#ag)"/>
<path d="M581.2,260.5 L587,265 L593,265 L598.1,260.5 L589.7,277 Z" fill="#27488a"/>
<rect x="653.6" y="0" width="1.4" height="590" fill="#ffffff"/>
</svg></body></html>
